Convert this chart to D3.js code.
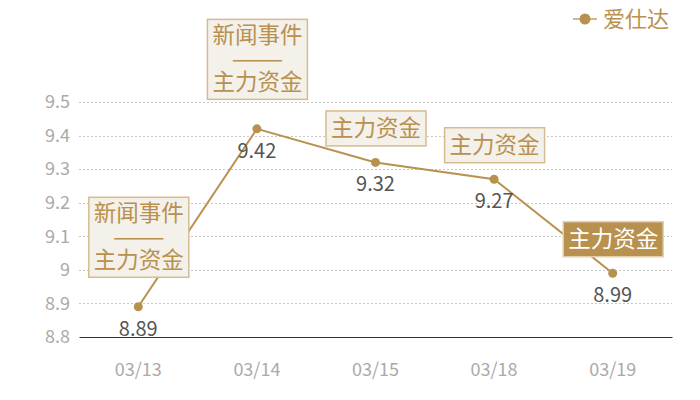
<!DOCTYPE html>
<html>
<head>
<meta charset="utf-8">
<script src="https://cdn.jsdelivr.net/npm/d3@7"></script>
<style>
  body { margin: 0; background: #fff; }
  text { font-family: "Noto Sans CJK SC", "Noto Sans", sans-serif; }
</style>
</head>
<body>
<svg id="chart" width="700" height="400"></svg>
<script>
var dates = ["03/13", "03/14", "03/15", "03/18", "03/19"];
var prices = [8.89, 9.42, 9.32, 9.27, 8.99];
var yTicks = [8.8, 8.9, 9, 9.1, 9.2, 9.3, 9.4, 9.5];
var notes = [
  ["新闻事件", "——", "主力资金"],
  ["新闻事件", "——", "主力资金"],
  ["主力资金"],
  ["主力资金"],
  ["主力资金"]
];
var noteFilled = [false, false, false, false, true];
var seriesName = "爱仕达";

var gold = "#b8914f";
var svg = d3.select("#chart");
var margin = { left: 79, right: 28 };

var x = d3.scaleBand()
  .domain(dates)
  .range([margin.left, 700 - margin.right]);

var y = d3.scaleLinear()
  .domain([8.8, 9.5])
  .range([337, 102]);

function cx(d) { return x(d) + x.bandwidth() / 2; }

// grid
svg.append("g")
  .selectAll("line")
  .data(yTicks.slice(1))
  .enter()
  .append("line")
  .attr("x1", margin.left)
  .attr("x2", 700 - margin.right)
  .attr("y1", function(d) { return Math.round(y(d)) + 0.5; })
  .attr("y2", function(d) { return Math.round(y(d)) + 0.5; })
  .attr("stroke", "#c8c8c8")
  .attr("stroke-dasharray", "2,2");

// y axis labels
var yAxis = svg.append("g")
  .attr("transform", "translate(" + margin.left + ",0)")
  .call(d3.axisLeft(y).tickValues(yTicks).tickSize(0).tickPadding(9)
    .tickFormat(function(d) { return d3.format("")(d); }));
yAxis.select(".domain").remove();
yAxis.selectAll("text")
  .attr("fill", "#aaa")
  .attr("font-size", "18px")
  .style("font-family", "\"Noto Sans CJK SC\", sans-serif");

// x axis
var xAxis = svg.append("g")
  .attr("transform", "translate(0," + y(8.8) + ")")
  .call(d3.axisBottom(x).tickSize(0).tickPadding(26));
xAxis.select(".domain")
  .attr("stroke", "#333")
  .attr("stroke-width", 1.2);
xAxis.selectAll("text")
  .attr("fill", "#aaa")
  .attr("font-size", "18px")
  .style("font-family", "\"Noto Sans CJK SC\", sans-serif");

// line
var line = d3.line()
  .x(function(d, i) { return cx(dates[i]); })
  .y(function(d) { return y(d); });

svg.append("path")
  .datum(prices)
  .attr("d", line)
  .attr("fill", "none")
  .attr("stroke", gold)
  .attr("stroke-width", 2);

svg.append("g")
  .selectAll("circle")
  .data(prices)
  .enter()
  .append("circle")
  .attr("cx", function(d, i) { return cx(dates[i]); })
  .attr("cy", function(d) { return y(d); })
  .attr("r", 4.5)
  .attr("fill", gold);

// value labels
svg.append("g")
  .selectAll("text")
  .data(prices)
  .enter()
  .append("text")
  .attr("x", function(d, i) { return cx(dates[i]); })
  .attr("y", function(d) { return y(d) + 29; })
  .attr("text-anchor", "middle")
  .attr("font-size", "20px")
  .attr("fill", "#555")
  .text(function(d) { return d3.format(".2f")(d); });

// annotation boxes
var boxW = 100, lineH = 23.5;
function boxH(i) { return notes[i].length > 1 ? 80 : 35; }

var note = svg.append("g")
  .selectAll("g")
  .data(prices)
  .enter()
  .append("g")
  .attr("transform", function(d, i) {
    var gap = notes[i].length > 1 ? 30 : 17;
    return "translate(" + (cx(dates[i]) - boxW / 2) + "," + (y(d) - gap - boxH(i)) + ")";
  });

note.append("rect")
  .attr("x", 0.5)
  .attr("y", 0.5)
  .attr("width", boxW)
  .attr("height", function(d, i) { return boxH(i); })
  .attr("fill", function(d, i) { return noteFilled[i] ? gold : "#f4f0ea"; })
  .attr("stroke", function(d, i) { return noteFilled[i] ? "#e3cfae" : "#d6bc90"; })
  .attr("stroke-width", 1.5);

// one text per box, one tspan per row
note.each(function(d, i) {
  var n = notes[i].length;
  var startY = boxH(i) / 2 - (n - 1) * lineH / 2;
  var label = d3.select(this).append("text")
    .attr("text-anchor", "middle")
    .attr("font-size", "22.5px")
    .attr("fill", noteFilled[i] ? "#fff" : gold);

  label.selectAll("tspan")
    .data(notes[i])
    .enter()
    .append("tspan")
    .attr("x", boxW / 2 + 0.5)
    .attr("y", function(t, j) { return startY + j * lineH; })
    .attr("dy", "0.36em")
    .each(function(t) {
      if (t === "——") {
        d3.select(this).attr("textLength", 52).attr("lengthAdjust", "spacingAndGlyphs");
      }
    })
    .text(function(t) { return t; });
});

// legend
var legend = svg.append("g").attr("transform", "translate(573,19)");
legend.append("line")
  .attr("x1", 0).attr("x2", 24)
  .attr("stroke", "#d2b888").attr("stroke-width", 2);
legend.append("circle")
  .attr("cx", 12).attr("r", 5.5).attr("fill", gold);
legend.append("text")
  .attr("x", 30)
  .attr("dy", "0.36em")
  .attr("font-size", "22px")
  .attr("fill", gold)
  .text(seriesName);
</script>
</body>
</html>
